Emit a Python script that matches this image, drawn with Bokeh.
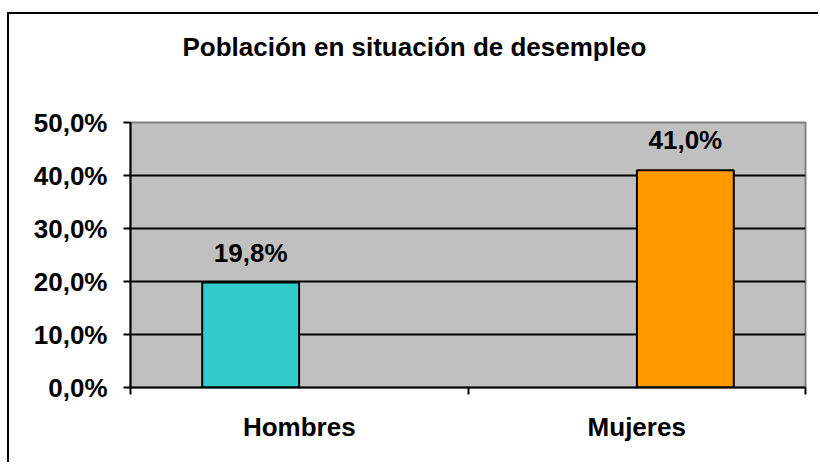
from bokeh.plotting import figure
from bokeh.models import ColumnDataSource, FixedTicker, Range1d, Title
from bokeh.transform import dodge
from bokeh.core.properties import value
from bokeh.embed import file_html
from bokeh.resources import INLINE

title_text = "Población en situación de desempleo"
categories = ["Hombres", "Mujeres"]
values = [0.198, 0.410]
value_labels = ["19,8%", "41,0%"]
bar_colors = ["#33CCCC", "#FF9900"]
y_ticks = [0.0, 0.1, 0.2, 0.3, 0.4, 0.5]
y_tick_labels = ["0,0%", "10,0%", "20,0%", "30,0%", "40,0%", "50,0%"]

FONT = value("Liberation Sans")
FS = "26px"

p = figure(
    title=None,
    output_backend="svg", toolbar_location=None,
    frame_width=675, frame_height=265,
    min_border_left=121, min_border_right=13, min_border_top=108, min_border_bottom=75,
    x_range=Range1d(0, len(categories)), y_range=Range1d(y_ticks[0], y_ticks[-1]),
    background_fill_color="#C0C0C0", border_fill_color="white",
)
p.styles = {"border-left": "2px solid black", "border-top": "2px solid black",
            "margin-top": "12px", "margin-left": "7px"}

p.outline_line_color = "#808080"
p.outline_line_width = 2

# spacer (closest to plot) then the real title above it
p.add_layout(Title(text=" ", text_font_size="1px", standoff=53), "above")
p.add_layout(Title(text=title_text, align="left", offset=52, standoff=10,
                   text_font="Liberation Sans", text_font_size=FS,
                   text_font_style="bold", text_color="black"), "above")

# series: each category is its own series in a clustered layout
offsets = [-0.144, 0.144]
bar_w = 0.287
for i, cat in enumerate(categories):
    src = ColumnDataSource(dict(x=[i + 0.5], top=[values[i]], label=[value_labels[i]]))
    p.vbar(x=dodge("x", offsets[i]), top="top", bottom=0, width=bar_w, source=src,
           fill_color=bar_colors[i], line_color="black", line_width=2)
    p.text(x=dodge("x", offsets[i]), y="top", text="label", source=src,
           text_align="center", text_baseline="alphabetic", y_offset=-30,
           text_font=FONT, text_font_style="bold", text_font_size=FS, text_color="black")

# y axis
p.yaxis.ticker = FixedTicker(ticks=y_ticks)
p.yaxis.major_label_overrides = {t: l for t, l in zip(y_ticks, y_tick_labels)}
p.yaxis.major_tick_out = 7
p.yaxis.major_tick_in = 0
p.yaxis.major_tick_line_width = 2
p.yaxis.axis_line_width = 2
p.yaxis.minor_tick_line_color = None
p.yaxis.major_label_standoff = 16
p.yaxis.major_label_text_font = "Liberation Sans"
p.yaxis.major_label_text_font_size = FS
p.yaxis.major_label_text_font_style = "bold"
p.yaxis.major_label_text_color = "black"

# x axis: labels at category centres, ticks at boundaries
centres = [i + 0.5 for i in range(len(categories))]
bounds = list(range(len(categories) + 1))
p.xaxis.ticker = FixedTicker(ticks=centres, minor_ticks=bounds)
p.xaxis.major_label_overrides = {c: l for c, l in zip(centres, categories)}
p.xaxis.major_tick_line_color = None
p.xaxis.major_tick_out = 0
p.xaxis.major_tick_in = 0
p.xaxis.minor_tick_out = 7
p.xaxis.minor_tick_in = 0
p.xaxis.minor_tick_line_width = 2
p.xaxis.minor_tick_line_color = "black"
p.xaxis.axis_line_width = 2
p.xaxis.major_label_standoff = 17
p.xaxis.major_label_text_font = "Liberation Sans"
p.xaxis.major_label_text_font_size = FS
p.xaxis.major_label_text_font_style = "bold"
p.xaxis.major_label_text_color = "black"

p.xgrid.visible = False
p.ygrid.ticker = FixedTicker(ticks=y_ticks[1:-1])
p.ygrid.grid_line_color = "black"
p.ygrid.grid_line_width = 2

open("out.html", "w").write(file_html(p, INLINE))
